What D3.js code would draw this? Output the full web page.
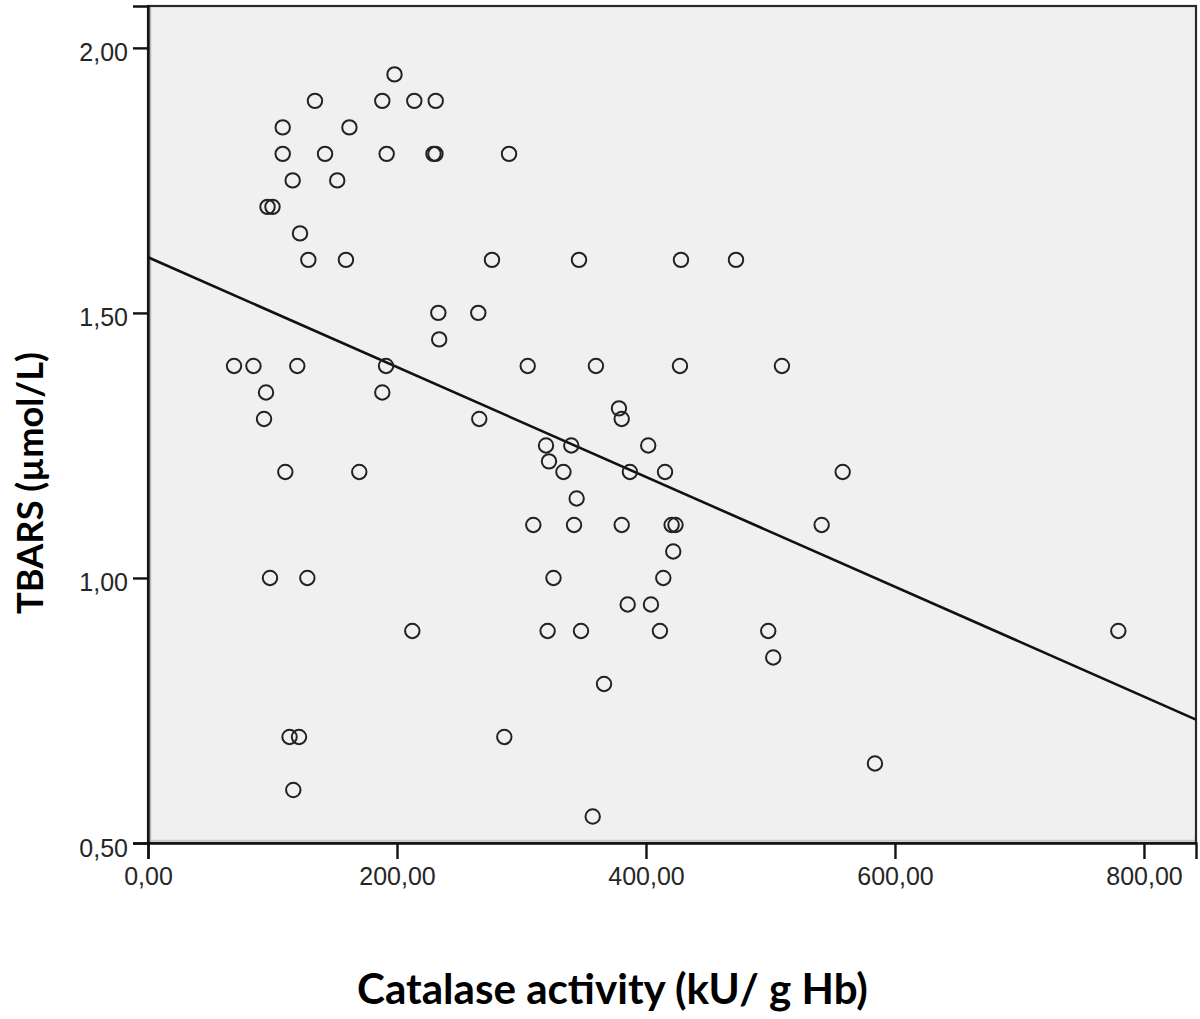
<!DOCTYPE html>
<html>
<head>
<meta charset="utf-8">
<script src="https://cdn.jsdelivr.net/npm/d3@7"></script>
<style>
  html, body { margin: 0; padding: 0; background: #ffffff; }
  svg { display: block; }
</style>
</head>
<body>
<svg id="chart" width="1200" height="1019"></svg>
<script>
// ---- Data ----
const catalase = [
  198.0,
  134.1, 188.2, 213.9, 231.1,
  108.2, 161.8,
  108.2, 142.2, 191.7, 229.3, 230.9, 290.0,
  116.2, 152.0,
  96.0, 100.0,
  122.1,
  128.8, 159.0, 276.3, 346.2, 428.1, 472.3,
  233.2, 265.3,
  233.9,
  69.1, 84.7, 119.9, 191.2, 305.0, 359.8, 427.3, 509.2,
  94.8, 188.2,
  378.3,
  93.2, 266.1, 380.5,
  319.7, 340.0, 401.8,
  322.1,
  110.3, 169.7, 333.7, 387.1, 415.3, 558.0,
  344.3,
  309.5, 342.2, 380.5, 420.6, 423.7, 541.1,
  421.9,
  98.0, 128.0, 325.7, 413.9,
  385.3, 404.0,
  212.3, 321.0, 347.8, 411.2, 498.2, 779.4,
  502.2,
  366.3,
  113.7, 121.3, 286.2,
  583.9,
  116.7,
  357.2
];
const tbars = [
  1.95,
  1.90, 1.90, 1.90, 1.90,
  1.85, 1.85,
  1.80, 1.80, 1.80, 1.80, 1.80, 1.80,
  1.75, 1.75,
  1.70, 1.70,
  1.65,
  1.60, 1.60, 1.60, 1.60, 1.60, 1.60,
  1.50, 1.50,
  1.45,
  1.40, 1.40, 1.40, 1.40, 1.40, 1.40, 1.40, 1.40,
  1.35, 1.35,
  1.32,
  1.30, 1.30, 1.30,
  1.25, 1.25, 1.25,
  1.22,
  1.20, 1.20, 1.20, 1.20, 1.20, 1.20,
  1.15,
  1.10, 1.10, 1.10, 1.10, 1.10, 1.10,
  1.05,
  1.00, 1.00, 1.00, 1.00,
  0.95, 0.95,
  0.90, 0.90, 0.90, 0.90, 0.90, 0.90,
  0.85,
  0.80,
  0.70, 0.70, 0.70,
  0.65,
  0.60,
  0.55
];
const xTicks = [0, 200, 400, 600, 800];
const yTicks = [0.5, 1.0, 1.5, 2.0];
const xDomain = [0, 841.8];
const yDomain = [0.5, 2.079];
// fit line: TBARS = intercept + slope * catalase
const fitIntercept = 1.605;
const fitSlope = -0.001036;
const xTitle = "Catalase activity (kU/ g Hb)";
const yTitle = "TBARS (µmol/L)";

// ---- Layout ----
const plot = { left: 148, right: 1196, top: 6, bottom: 843 };
const svg = d3.select("#chart");

const x = d3.scaleLinear().domain(xDomain).range([plot.left, plot.right]);
const y = d3.scaleLinear().domain(yDomain).range([plot.bottom, plot.top]);
const fmt = v => d3.format(".2f")(v).replace(".", ",");

// plot background
svg.append("rect")
  .attr("x", plot.left).attr("y", plot.top)
  .attr("width", plot.right - plot.left).attr("height", plot.bottom - plot.top)
  .attr("fill", "#f0f0f0");

// inner shadow lines
svg.append("line")
  .attr("x1", plot.left + 2.5).attr("x2", plot.left + 2.5)
  .attr("y1", plot.top).attr("y2", plot.bottom)
  .attr("stroke", "#b8b8b8").attr("stroke-width", 1.5);
svg.append("line")
  .attr("x1", plot.left).attr("x2", plot.right)
  .attr("y1", plot.bottom - 2.5).attr("y2", plot.bottom - 2.5)
  .attr("stroke", "#c8c8c8").attr("stroke-width", 1.5);

// frame
svg.append("rect")
  .attr("x", plot.left).attr("y", plot.top)
  .attr("width", plot.right - plot.left).attr("height", plot.bottom - plot.top)
  .attr("fill", "none").attr("stroke", "#2a2a2a").attr("stroke-width", 2.2);

// axes
const xAxis = d3.axisBottom(x).tickValues(xTicks).tickFormat(fmt).tickSize(16).tickPadding(8);
const yAxis = d3.axisLeft(y).tickValues(yTicks).tickFormat(fmt).tickSize(15).tickPadding(5);

const gx = svg.append("g").attr("transform", `translate(0,${plot.bottom})`).call(xAxis);
const gy = svg.append("g").attr("transform", `translate(${plot.left},0)`).call(yAxis);

[gx, gy].forEach(g => {
  g.select(".domain").attr("stroke", "#111").attr("stroke-width", 2.4);
  g.selectAll(".tick line").attr("stroke", "#111").attr("stroke-width", 2.4);
  g.selectAll(".tick text")
    .attr("fill", "#262626")
    .style("font-family", "'Liberation Sans', Arial, sans-serif")
    .style("font-size", "25px");
});
gy.selectAll(".tick text").attr("dy", "0.52em");

// regression line (clipped to plot)
const clip = svg.append("clipPath").attr("id", "plotclip")
  .append("rect")
  .attr("x", plot.left).attr("y", plot.top)
  .attr("width", plot.right - plot.left).attr("height", plot.bottom - plot.top);

const lineData = xDomain.map(v => [v, fitIntercept + fitSlope * v]);
svg.append("path")
  .attr("clip-path", "url(#plotclip)")
  .attr("d", d3.line().x(d => x(d[0])).y(d => y(d[1]))(lineData))
  .attr("fill", "none").attr("stroke", "#111").attr("stroke-width", 2.6);

// points
const pts = catalase.map((c, i) => ({ c, t: tbars[i] }));
svg.append("g").selectAll("circle").data(pts).enter().append("circle")
  .attr("cx", d => x(d.c)).attr("cy", d => y(d.t))
  .attr("r", 7.2)
  .attr("fill", "none").attr("stroke", "#222").attr("stroke-width", 2);

// titles, fitted to widths measured on the reference
function fitText(sel, targetWidth) {
  const w = sel.node().getComputedTextLength();
  const fs = parseFloat(sel.style("font-size"));
  sel.style("font-size", (fs * targetWidth / w) + "px");
}

const xt = svg.append("text")
  .attr("x", 612.5).attr("y", 1004)
  .attr("text-anchor", "middle")
  .style("font-family", "Lato, 'Open Sans', sans-serif")
  .style("font-weight", "700")
  .style("font-size", "38px")
  .attr("fill", "#000")
  .text(xTitle);
fitText(xt, 511);

const yt = svg.append("text")
  .attr("transform", "translate(43,483) rotate(-90)")
  .attr("text-anchor", "middle")
  .style("font-family", "Lato, 'Open Sans', sans-serif")
  .style("font-weight", "700")
  .style("font-size", "38px")
  .attr("fill", "#000")
  .text(yTitle);
fitText(yt, 262);
</script>
</body>
</html>
